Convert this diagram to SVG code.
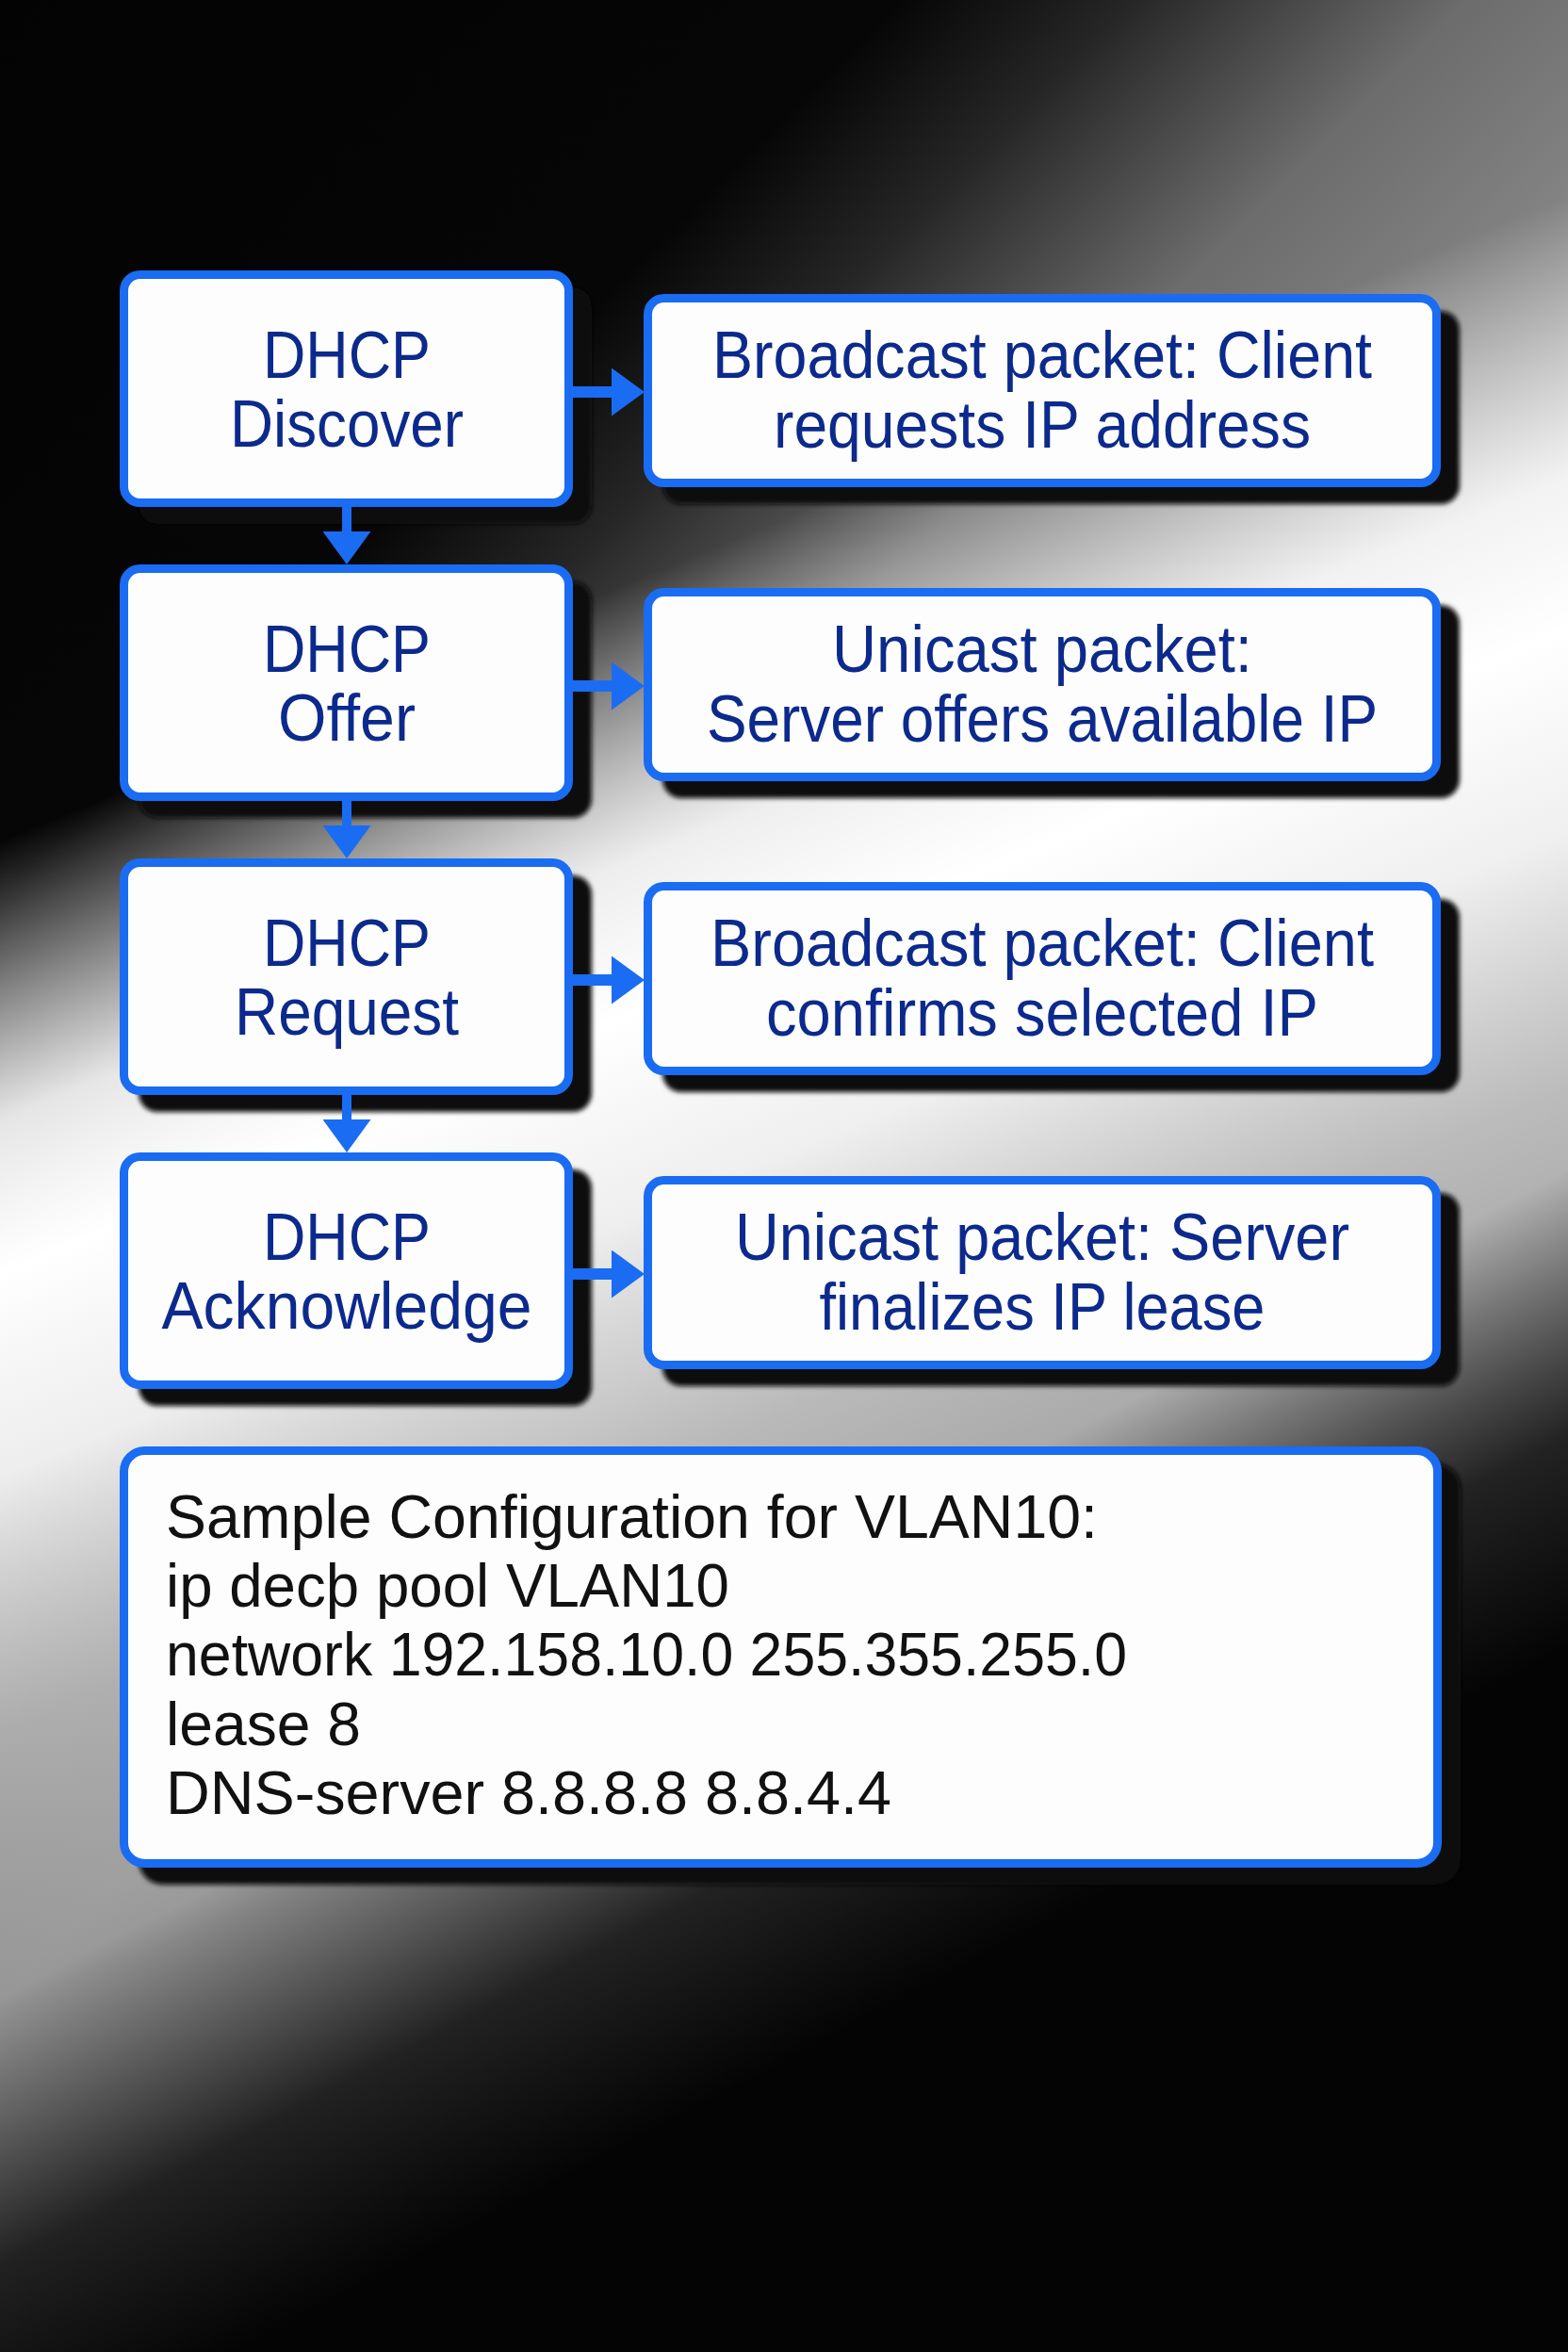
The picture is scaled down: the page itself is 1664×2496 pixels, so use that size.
<svg xmlns="http://www.w3.org/2000/svg" width="1664" height="2496" viewBox="0 0 1664 2496">
  <defs>
    <linearGradient id="base" gradientUnits="userSpaceOnUse" x1="0" y1="0" x2="1768" y2="1768">
      <stop offset="0" stop-color="#030303"/>
      <stop offset="0.27" stop-color="#060606"/>
      <stop offset="0.34" stop-color="#262626"/>
      <stop offset="0.44" stop-color="#6c6c6c"/>
      <stop offset="0.6" stop-color="#959595"/>
      <stop offset="1" stop-color="#a0a0a0"/>
    </linearGradient>
    <linearGradient id="band" gradientUnits="userSpaceOnUse" x1="0" y1="0" x2="950" y2="2312">
      <stop offset="0.33" stop-color="#ffffff" stop-opacity="0"/>
      <stop offset="0.44" stop-color="#ffffff" stop-opacity="0.88"/>
      <stop offset="0.5" stop-color="#ffffff" stop-opacity="1"/>
      <stop offset="0.58" stop-color="#f4f4f4" stop-opacity="0.95"/>
      <stop offset="0.68" stop-color="#eeeeee" stop-opacity="0.4"/>
      <stop offset="0.79" stop-color="#eeeeee" stop-opacity="0"/>
    </linearGradient>
    <linearGradient id="shade" gradientUnits="userSpaceOnUse" x1="0" y1="0" x2="1169" y2="2210">
      <stop offset="0.75" stop-color="#000000" stop-opacity="0"/>
      <stop offset="0.85" stop-color="#000000" stop-opacity="0.78"/>
      <stop offset="0.93" stop-color="#040404" stop-opacity="1"/>
      <stop offset="1" stop-color="#040404" stop-opacity="1"/>
    </linearGradient>
    <filter id="soft" x="-5%" y="-5%" width="110%" height="110%">
      <feGaussianBlur stdDeviation="2.5"/>
    </filter>
    <marker id="head" markerUnits="userSpaceOnUse" viewBox="0 0 35 51" markerWidth="35" markerHeight="51" refX="5" refY="25.5" orient="auto">
      <path d="M0,0 L35,25.5 L0,51 z" fill="#1a6cf2"/>
    </marker>
  </defs>
  <style>
    .shadow { fill: #080808; filter: url(#soft); }
    .box { fill: #fdfdfd; stroke: #1a6cf2; stroke-width: 9; }
    .lbl { font-family: "Liberation Sans", Arial, sans-serif; font-size: 71px; fill: #0c2a8c; text-anchor: middle; }
    .cfg { font-family: "Liberation Sans", Arial, sans-serif; font-size: 64px; fill: #111111; }
    .conn { fill: none; stroke: #1a6cf2; }
    .v { stroke-width: 10; }
    .h { stroke-width: 12; }
  </style>

  <rect x="0" y="0" width="1664" height="2496" fill="url(#base)"/>
  <rect x="0" y="0" width="1664" height="2496" fill="url(#band)"/>
  <rect x="0" y="0" width="1664" height="2496" fill="url(#shade)"/>

  <g id="discover">
    <rect class="shadow" x="147" y="305" width="481" height="251" rx="20"/>
    <rect class="box" x="131.5" y="291.5" width="472" height="242" rx="17"/>
    <text class="lbl" x="368" y="401" textLength="178" lengthAdjust="spacingAndGlyphs">DHCP</text>
    <text class="lbl" x="368" y="474" textLength="248" lengthAdjust="spacingAndGlyphs">Discover</text>
  </g>
  <g id="offer">
    <rect class="shadow" x="147" y="617" width="481" height="251" rx="20"/>
    <rect class="box" x="131.5" y="603.5" width="472" height="242" rx="17"/>
    <text class="lbl" x="368" y="713" textLength="178" lengthAdjust="spacingAndGlyphs">DHCP</text>
    <text class="lbl" x="368" y="786" textLength="146" lengthAdjust="spacingAndGlyphs">Offer</text>
  </g>
  <g id="request">
    <rect class="shadow" x="147" y="929" width="481" height="251" rx="20"/>
    <rect class="box" x="131.5" y="915.5" width="472" height="242" rx="17"/>
    <text class="lbl" x="368" y="1025" textLength="178" lengthAdjust="spacingAndGlyphs">DHCP</text>
    <text class="lbl" x="368" y="1098" textLength="238" lengthAdjust="spacingAndGlyphs">Request</text>
  </g>
  <g id="acknowledge">
    <rect class="shadow" x="147" y="1241" width="481" height="251" rx="20"/>
    <rect class="box" x="131.5" y="1227.5" width="472" height="242" rx="17"/>
    <text class="lbl" x="368" y="1337" textLength="178" lengthAdjust="spacingAndGlyphs">DHCP</text>
    <text class="lbl" x="368" y="1410" textLength="393" lengthAdjust="spacingAndGlyphs">Acknowledge</text>
  </g>

  <g id="discover-desc">
    <rect class="shadow" x="703" y="330" width="846" height="205" rx="20"/>
    <rect class="box" x="687.5" y="316.5" width="837" height="196" rx="17"/>
    <text class="lbl" x="1106" y="401" textLength="700" lengthAdjust="spacingAndGlyphs">Broadcast packet: Client</text>
    <text class="lbl" x="1106" y="475" textLength="570" lengthAdjust="spacingAndGlyphs">requests IP address</text>
  </g>
  <g id="offer-desc">
    <rect class="shadow" x="703" y="642" width="846" height="205" rx="20"/>
    <rect class="box" x="687.5" y="628.5" width="837" height="196" rx="17"/>
    <text class="lbl" x="1106" y="713" textLength="446" lengthAdjust="spacingAndGlyphs">Unicast packet:</text>
    <text class="lbl" x="1106" y="787" textLength="712" lengthAdjust="spacingAndGlyphs">Server offers available IP</text>
  </g>
  <g id="request-desc">
    <rect class="shadow" x="703" y="954" width="846" height="205" rx="20"/>
    <rect class="box" x="687.5" y="940.5" width="837" height="196" rx="17"/>
    <text class="lbl" x="1106" y="1025" textLength="704" lengthAdjust="spacingAndGlyphs">Broadcast packet: Client</text>
    <text class="lbl" x="1106" y="1099" textLength="586" lengthAdjust="spacingAndGlyphs">confirms selected IP</text>
  </g>
  <g id="acknowledge-desc">
    <rect class="shadow" x="703" y="1266" width="846" height="205" rx="20"/>
    <rect class="box" x="687.5" y="1252.5" width="837" height="196" rx="17"/>
    <text class="lbl" x="1106" y="1337" textLength="652" lengthAdjust="spacingAndGlyphs">Unicast packet: Server</text>
    <text class="lbl" x="1106" y="1411" textLength="473" lengthAdjust="spacingAndGlyphs">finalizes IP lease</text>
  </g>

  <g id="config">
    <rect class="shadow" x="147" y="1553" width="1403" height="447" rx="26"/>
    <rect class="box" x="131.5" y="1539.5" width="1394" height="438" rx="22"/>
    <text class="cfg" x="176" y="1632" textLength="989" lengthAdjust="spacingAndGlyphs">Sample Configuration for VLAN10:</text>
    <text class="cfg" x="176" y="1705" textLength="598" lengthAdjust="spacingAndGlyphs">ip decþ pool VLAN10</text>
    <text class="cfg" x="176" y="1778" textLength="1020" lengthAdjust="spacingAndGlyphs">network 192.158.10.0 255.355.255.0</text>
    <text class="cfg" x="176" y="1852" textLength="207" lengthAdjust="spacingAndGlyphs">lease 8</text>
    <text class="cfg" x="176" y="1925" textLength="770" lengthAdjust="spacingAndGlyphs">DNS-server 8.8.8.8 8.8.4.4</text>
  </g>

  <g id="connectors">
    <path class="conn v" d="M368,538 V569" marker-end="url(#head)"/>
    <path class="conn v" d="M368,850 V881" marker-end="url(#head)"/>
    <path class="conn v" d="M368,1162 V1193" marker-end="url(#head)"/>
    <path class="conn h" d="M608,416 H654" marker-end="url(#head)"/>
    <path class="conn h" d="M608,728 H654" marker-end="url(#head)"/>
    <path class="conn h" d="M608,1040 H654" marker-end="url(#head)"/>
    <path class="conn h" d="M608,1352 H654" marker-end="url(#head)"/>
  </g>
</svg>
